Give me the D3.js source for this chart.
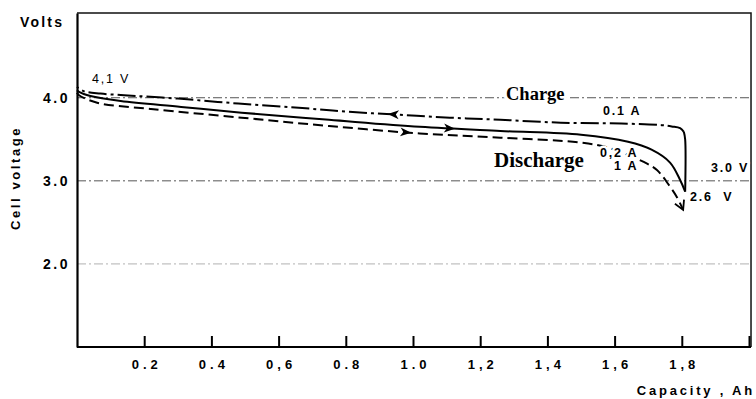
<!DOCTYPE html>
<html lang="en">
<head>
    <meta charset="UTF-8">
    <title>Cell voltage vs capacity</title>
    <script src="https://d3js.org/d3.v7.min.js"></script>
    <style>
        *{padding:0; margin:0; box-sizing: border-box;}
        body{background:#fff;}
        text{font-family:"Liberation Sans", Arial, Helvetica, sans-serif; fill:#000;}
        .curve{fill:none; stroke:#000; stroke-width:2; stroke-linecap:butt;}
        .grid{stroke:#555; stroke-width:1; stroke-dasharray:9 3 2 3;}
        .lbl{font-size:12.5px; letter-spacing:1.8px; paint-order:stroke; stroke:#fff; stroke-width:5px; stroke-linejoin:round;}
        .big{font-family:"Liberation Serif", "Times New Roman", serif; font-weight:bold; paint-order:stroke; stroke:#fff; stroke-width:7px; stroke-linejoin:round;}
        .axis text{font-family:"Liberation Sans", Arial, sans-serif; font-weight:bold;}
    </style>
</head>
<body>
    <script>
        // values
        const xTickValues = [0.2, 0.4, 0.6, 0.8, 1.0, 1.2, 1.4, 1.6, 1.8, 2.0];
        const xTickLabels = ["0.2", "0.4", "0,6", "0.8", "1.0", "1,2", "1,4", "1,6", "1,8", ""];
        const yTickValues = [2.0, 3.0, 4.0];
        const yTickLabels = ["2.0", "3.0", "4.0"];

        // charge 0.1 A (starts at the bottom right, runs to the left)
        const chargeAh = [1.81, 1.81, 1.806, 1.795, 1.77, 1.74, 1.62, 1.44, 1.26, 1.11, 0.96, 0.81, 0.66, 0.48, 0.30, 0.14, 0.07, 0.02, 0.0];
        const chargeV  = [2.87, 3.50, 3.59, 3.635, 3.655, 3.67, 3.69, 3.70, 3.735, 3.76, 3.795, 3.83, 3.88, 3.93, 3.99, 4.03, 4.05, 4.08, 4.13];
        // discharge 0.2 A
        const dis02Ah = [0.0, 0.006, 0.04, 0.13, 0.31, 0.49, 0.75, 1.02, 1.26, 1.50, 1.64, 1.71, 1.765, 1.795, 1.81];
        const dis02V  = [4.09, 4.07, 4.02, 3.96, 3.89, 3.82, 3.735, 3.65, 3.60, 3.555, 3.47, 3.375, 3.22, 3.01, 2.87];
        // discharge 1 A
        const dis1Ah = [0.0, 0.006, 0.06, 0.22, 0.49, 0.75, 1.02, 1.26, 1.50, 1.58, 1.685, 1.726, 1.765, 1.786, 1.804];
        const dis1V  = [4.06, 4.03, 3.94, 3.865, 3.76, 3.66, 3.57, 3.52, 3.46, 3.40, 3.23, 3.13, 2.93, 2.80, 2.65];

        // where the direction arrows sit (Ah)
        const arrowCharge = 0.94, arrowDis02 = 1.11, arrowDis1 = 0.98;

        const W = 756, H = 399;
        const svg = d3.select('body').append('svg').attr('width', W).attr('height', H);

        const x = d3.scaleLinear().domain([0, 2.0]).range([77, 749]);
        const y = d3.scaleLinear().domain([1.0, 5.02]).range([347, 13]);
        const xMaxFrame = 2.006;

        const zip = (a, b) => a.map((v, i) => ({ah: v, v: b[i]}));
        const charge = zip(chargeAh, chargeV);
        const dis02 = zip(dis02Ah, dis02V);
        const dis1 = zip(dis1Ah, dis1V);

        //gridlines
        svg.append('g').selectAll('line')
            .data(yTickValues).enter().append('line')
            .attr('class', 'grid')
            .attr('x1', x(0)).attr('x2', x(xMaxFrame))
            .attr('y1', d => y(d)).attr('y2', d => y(d))
            .attr('stroke-opacity', d => d === 2.0 ? 0.45 : 1);

        //frame top + right
        svg.append('path')
            .attr('d', 'M' + x(0) + ',' + y(5.02) + ' H' + x(xMaxFrame) + ' V' + y(1.0))
            .attr('fill', 'none').attr('stroke', '#111').attr('stroke-width', 1.5);

        //axes
        const xAxis = d3.axisBottom(x).tickValues(xTickValues)
            .tickFormat((d, i) => xTickLabels[i]).tickSizeInner(-11).tickSizeOuter(0).tickPadding(13);
        const gx = svg.append('g').attr('class', 'axis').attr('transform', 'translate(0,' + y(1.0) + ')').call(xAxis);
        gx.select('.domain').attr('stroke-width', 2).attr('d', 'M' + x(0) + ',0H' + x(xMaxFrame));
        gx.selectAll('.tick line').attr('stroke-width', 2);
        gx.selectAll('.tick text').style('font-size', '13px')
            .style('letter-spacing', '4px').attr('dx', 2);

        const yAxis = d3.axisLeft(y).tickValues(yTickValues)
            .tickFormat((d, i) => yTickLabels[i]).tickSize(0).tickPadding(9);
        const gy = svg.append('g').attr('class', 'axis').attr('transform', 'translate(' + x(0) + ',0)').call(yAxis);
        gy.select('.domain').attr('stroke-width', 2.2);
        gy.selectAll('.tick text').style('font-size', '14px')
            .style('letter-spacing', '2.5px').attr('dx', 2);

        //axis titles
        svg.append('text').text('Volts').attr('x', 20).attr('y', 27)
            .attr('font-size', 14).attr('font-weight', 'bold').attr('letter-spacing', '2.2px');
        svg.append('text').text('Cell voltage')
            .attr('transform', 'translate(20,178) rotate(-90)')
            .attr('text-anchor', 'middle')
            .attr('font-size', 13).attr('font-weight', 'bold').attr('letter-spacing', '2.6px');
        svg.append('text').text('Capacity , Ah').attr('x', 755).attr('y', 395)
            .attr('text-anchor', 'end')
            .attr('font-size', 13).attr('font-weight', 'bold').attr('letter-spacing', '2.8px');

        //end marker (open V) for the 1 A curve
        svg.append('defs').append('marker')
            .attr('id', 'vhead').attr('viewBox', '-10 -6 12 12')
            .attr('refX', 0).attr('refY', 0)
            .attr('markerWidth', 12).attr('markerHeight', 12)
            .attr('markerUnits', 'userSpaceOnUse').attr('orient', 'auto')
            .append('path').attr('d', 'M-9,-5 L0,0 L-9,5')
            .attr('fill', 'none').attr('stroke', '#000').attr('stroke-width', 1.8);

        const line = d3.line().x(d => x(d.ah)).y(d => y(d.v)).curve(d3.curveCatmullRom.alpha(0.5));

        //curves
        svg.append('path').datum(charge.slice(0, 3)).attr('class', 'curve').attr('d', line);
        svg.append('path').datum(charge.slice(2)).attr('class', 'curve')
            .attr('stroke-dasharray', '18 4 3 4').attr('d', line);
        svg.append('path').datum(dis02).attr('class', 'curve').attr('d', line);
        svg.append('path').datum(dis1).attr('class', 'curve')
            .attr('stroke-dasharray', '10 5').attr('marker-end', 'url(#vhead)').attr('d', line);

        //direction arrows, placed on the curves
        function pointAt(series, ah) {
            for (let i = 0; i < series.length - 1; i++) {
                const a = series[i], b = series[i + 1];
                const lo = Math.min(a.ah, b.ah), hi = Math.max(a.ah, b.ah);
                if (hi > lo && ah >= lo && ah <= hi) {
                    const t = (ah - a.ah) / (b.ah - a.ah);
                    const v = a.v + t * (b.v - a.v);
                    const ang = Math.atan2(y(b.v) - y(a.v), x(b.ah) - x(a.ah)) * 180 / Math.PI;
                    return {px: x(ah), py: y(v), ang: ang};
                }
            }
        }
        const arrows = [pointAt(charge, arrowCharge), pointAt(dis02, arrowDis02), pointAt(dis1, arrowDis1)];
        svg.append('g').selectAll('path')
            .data(arrows).enter().append('path')
            .attr('d', 'M5,0 L-6,-4.5 L-3,0 L-6,4.5 Z')
            .attr('fill', '#000')
            .attr('transform', d => 'translate(' + d.px + ',' + d.py + ') rotate(' + d.ang + ')');

        //labels
        svg.append('text').attr('class', 'big').text('Charge')
            .attr('x', 506).attr('y', 100).attr('font-size', 18.5);
        svg.append('text').attr('class', 'big').text('Discharge')
            .attr('x', 494).attr('y', 167).attr('font-size', 21);

        const notes = [
            {t: '4,1 V', px: 92, py: 83, w: 'normal'},
            {t: '0.1 A', px: 603, py: 115, w: 'bold'},
            {t: '0,2 A', px: 600, py: 157, w: 'bold'},
            {t: '1 A', px: 614, py: 170, w: 'bold'},
            {t: '3.0 V', px: 711, py: 172, w: 'bold'},
            {t: '2.6\u00a0\u00a0V', px: 690, py: 201, w: 'bold'}
        ];
        svg.append('g').selectAll('text')
            .data(notes).enter().append('text')
            .attr('class', 'lbl')
            .text(d => d.t)
            .attr('x', d => d.px).attr('y', d => d.py)
            .attr('font-weight', d => d.w);
    </script>
</body>
</html>
